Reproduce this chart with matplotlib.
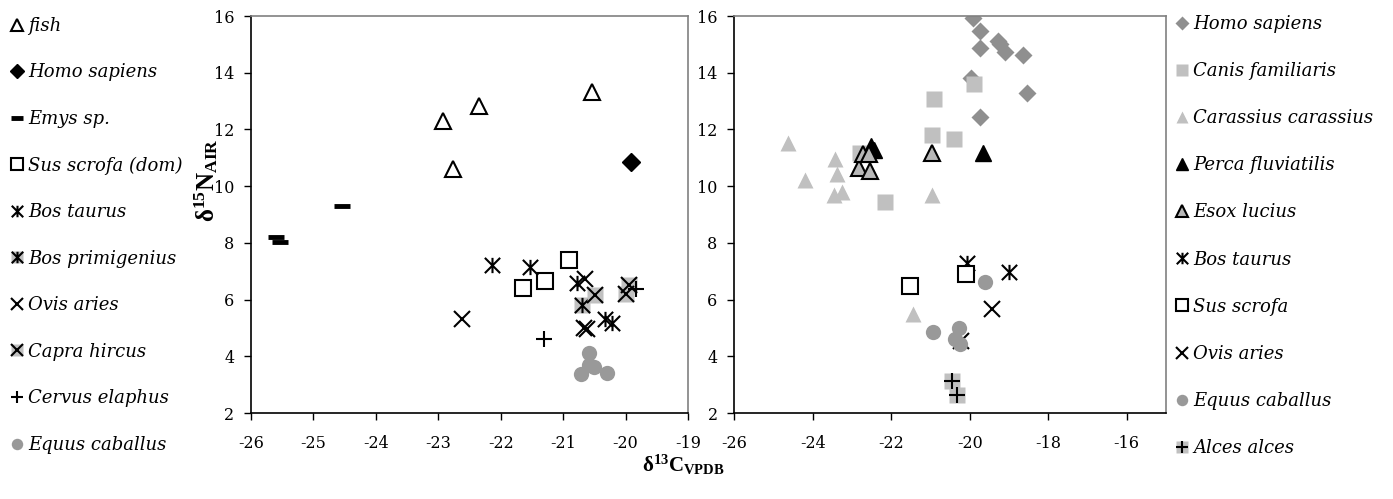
import matplotlib
matplotlib.use("Agg")
import matplotlib.pyplot as plt
from matplotlib.path import Path
from matplotlib.legend_handler import HandlerTuple

plt.rcParams['font.family'] = 'DejaVu Serif'
plt.rcParams['axes.unicode_minus'] = False
plt.rcParams['mathtext.fontset'] = 'custom'
plt.rcParams['mathtext.rm'] = 'Liberation Serif'
plt.rcParams['mathtext.bf'] = 'Liberation Serif:bold'
plt.rcParams['mathtext.it'] = 'Liberation Serif:italic'

# ---- left panel: archaeological fauna ----
fish_x = [-22.93, -22.34, -22.77, -20.54]
fish_y = [12.31, 12.82, 10.60, 13.31]
homo_l_x = [-19.91]
homo_l_y = [10.85]
emys_x = [-24.54, -25.60, -25.53]
emys_y = [9.29, 8.21, 8.04]
susdom_x = [-21.65, -21.29, -20.91]
susdom_y = [6.42, 6.65, 7.39]
bos_l_x = [-22.14, -21.53, -20.78, -20.33, -20.22]
bos_l_y = [7.21, 7.15, 6.60, 5.33, 5.16]
bosprim_x = [-20.70]
bosprim_y = [5.80]
ovis_l_x = [-22.62, -20.65, -20.67, -20.62]
ovis_l_y = [5.33, 6.74, 5.00, 4.95]
capra_x = [-20.49, -19.95, -20.00]
capra_y = [6.15, 6.51, 6.18]
cervus_x = [-21.31, -19.83]
cervus_y = [4.60, 6.36]
equus_l_x = [-20.59, -20.59, -20.71, -20.51, -20.30]
equus_l_y = [4.12, 3.68, 3.39, 3.62, 3.41]

# ---- right panel ----
homo_r_x = [-19.92, -19.75, -19.75, -19.27, -19.22, -19.10, -18.63, -18.54, -19.97, -19.75]
homo_r_y = [15.94, 15.47, 14.87, 15.12, 15.03, 14.73, 14.62, 13.29, 13.83, 12.45]
canis_x = [-19.90, -20.91, -20.96, -20.41, -22.15, -22.79]
canis_y = [13.60, 13.09, 11.80, 11.65, 9.44, 11.16]
carass_x = [-24.62, -24.20, -23.43, -23.39, -23.46, -23.26, -20.95, -21.45]
carass_y = [11.51, 10.22, 10.95, 10.43, 9.70, 9.81, 9.70, 5.48]
perca_x = [-22.51, -22.45, -19.65]
perca_y = [11.43, 11.28, 11.16]
esox_x = [-22.82, -22.54, -22.71, -22.56, -20.95]
esox_y = [10.63, 10.52, 11.14, 11.14, 11.18]
bos_r_x = [-20.07, -19.00]
bos_r_y = [7.30, 6.97]
sus_r_x = [-21.51, -20.09]
sus_r_y = [6.47, 6.89]
ovis_r_x = [-19.43, -20.22]
ovis_r_y = [5.68, 4.55]
equus_r_x = [-19.60, -20.94, -20.28, -20.37, -20.26]
equus_r_y = [6.63, 4.84, 4.99, 4.60, 4.43]
alces_x = [-20.45, -20.32]
alces_y = [3.14, 2.64]

left_labels = ['fish', 'Homo sapiens', 'Emys sp.', 'Sus scrofa (dom)', 'Bos taurus',
               'Bos primigenius', 'Ovis aries', 'Capra hircus', 'Cervus elaphus',
               'Equus caballus']
right_labels = ['Homo sapiens', 'Canis familiaris', 'Carassius carassius',
                'Perca fluviatilis', 'Esox lucius', 'Bos taurus', 'Sus scrofa',
                'Ovis aries', 'Equus caballus', 'Alces alces']

# excel style "star": x with a vertical bar
STAR = Path([(-1, -1), (1, 1), (-1, 1), (1, -1), (0, -1), (0, 1)],
            [Path.MOVETO, Path.LINETO, Path.MOVETO, Path.LINETO, Path.MOVETO, Path.LINETO])

LGRAY = '#c0c0c0'
MGRAY = '#999999'
DGRAY = '#8f8f8f'
MS = 11


def pts(ax, x, y, **kw):
    kw.setdefault('linestyle', 'none')
    return ax.plot(x, y, **kw)[0]


def open_tri(ax, x, y):
    return pts(ax, x, y, marker='^', ms=MS, mfc='white', mec='black', mew=1.5)


def open_sq(ax, x, y):
    return pts(ax, x, y, marker='s', ms=MS, mfc='white', mec='black', mew=1.5)


def star(ax, x, y, ms=MS):
    return pts(ax, x, y, marker=STAR, ms=ms, mfc='none', mec='black', mew=1.5)


def cross(ax, x, y):
    return pts(ax, x, y, marker='x', ms=MS, mec='black', mew=1.5)


def plus(ax, x, y):
    return pts(ax, x, y, marker='+', ms=MS, mec='black', mew=1.5)


def gsq(ax, x, y):
    return pts(ax, x, y, marker='s', ms=MS, mfc=LGRAY, mec='none')


def circ(ax, x, y):
    return pts(ax, x, y, marker='o', ms=MS, mfc=MGRAY, mec='none')


fig = plt.figure(figsize=(13.93, 4.99), dpi=100)
ax1 = fig.add_axes([0.1802, 0.1723, 0.3137, 0.7956])
ax2 = fig.add_axes([0.5271, 0.1723, 0.3099, 0.7956])

# left panel, drawn in legend order
h = []
h.append(open_tri(ax1, fish_x, fish_y))
h.append(pts(ax1, homo_l_x, homo_l_y, marker='D', ms=9, mfc='black', mec='black'))
h.append(pts(ax1, emys_x, emys_y, marker='_', ms=11.5, mec='black', mew=3.5))
h.append(open_sq(ax1, susdom_x, susdom_y))
h.append(star(ax1, bos_l_x, bos_l_y))
h.append((gsq(ax1, bosprim_x, bosprim_y), star(ax1, bosprim_x, bosprim_y)))
h.append(cross(ax1, ovis_l_x, ovis_l_y))
h.append((gsq(ax1, capra_x, capra_y), cross(ax1, capra_x, capra_y)))
h.append(plus(ax1, cervus_x, cervus_y))
h.append(circ(ax1, equus_l_x, equus_l_y))

# right panel
g = []
g.append(pts(ax2, homo_r_x, homo_r_y, marker='D', ms=9.5, mfc=DGRAY, mec='none'))
g.append(gsq(ax2, canis_x, canis_y))
g.append(pts(ax2, carass_x, carass_y, marker='^', ms=MS, mfc=LGRAY, mec='none'))
g.append(pts(ax2, perca_x, perca_y, marker='^', ms=MS, mfc='black', mec='black'))
g.append(pts(ax2, esox_x, esox_y, marker='^', ms=MS, mfc='#b8b8b8', mec='black', mew=1.5))
g.append(star(ax2, bos_r_x, bos_r_y))
g.append(open_sq(ax2, sus_r_x, sus_r_y))
g.append(cross(ax2, ovis_r_x, ovis_r_y))
g.append(circ(ax2, equus_r_x, equus_r_y))
g.append((gsq(ax2, alces_x, alces_y), plus(ax2, alces_x, alces_y)))

for ax, xmax, step in ((ax1, -19, 1), (ax2, -15, 2)):
    ax.set_xlim(-26, xmax)
    ax.set_ylim(2, 16)
    ax.set_xticks(range(-26, xmax if step == 2 else xmax + 1, step))
    ax.set_yticks(range(2, 17, 2))
    ax.tick_params(direction='out', length=5, width=1, labelsize=11.5, pad=7)
    ax.tick_params(axis='x', pad=11)
    for s in ('top', 'right'):
        ax.spines[s].set_color('#808080')
        ax.spines[s].set_linewidth(1.2)
    for s in ('left', 'bottom'):
        ax.spines[s].set_linewidth(1.2)

lprop = {'family': 'DejaVu Serif', 'style': 'italic', 'size': 13}
fig.legend(h, left_labels, loc='upper left', bbox_to_anchor=(0.0, 0.988),
           frameon=False, prop=lprop, markerscale=0.75, handlelength=0.7,
           handletextpad=0.25, labelspacing=1.58, borderaxespad=0.2,
           handler_map={tuple: HandlerTuple(ndivide=1)})
fig.legend(g, right_labels, loc='upper left', bbox_to_anchor=(0.8365, 0.992),
           frameon=False, prop=lprop, markerscale=0.75, handlelength=0.7,
           handletextpad=0.25, labelspacing=1.615, borderaxespad=0.2,
           handler_map={tuple: HandlerTuple(ndivide=1)})

fig.text(206 / 1393, 1 - 180 / 499, r'$\mathbf{\delta^{15}N_{AIR}}$', rotation=90,
         ha='center', va='center', fontsize=18)
fig.text(683 / 1393, 1 - 465 / 499, r'$\mathbf{\delta^{13}C_{VPDB}}$',
         ha='center', va='center', fontsize=15)

fig.savefig('out.png', dpi=100)
